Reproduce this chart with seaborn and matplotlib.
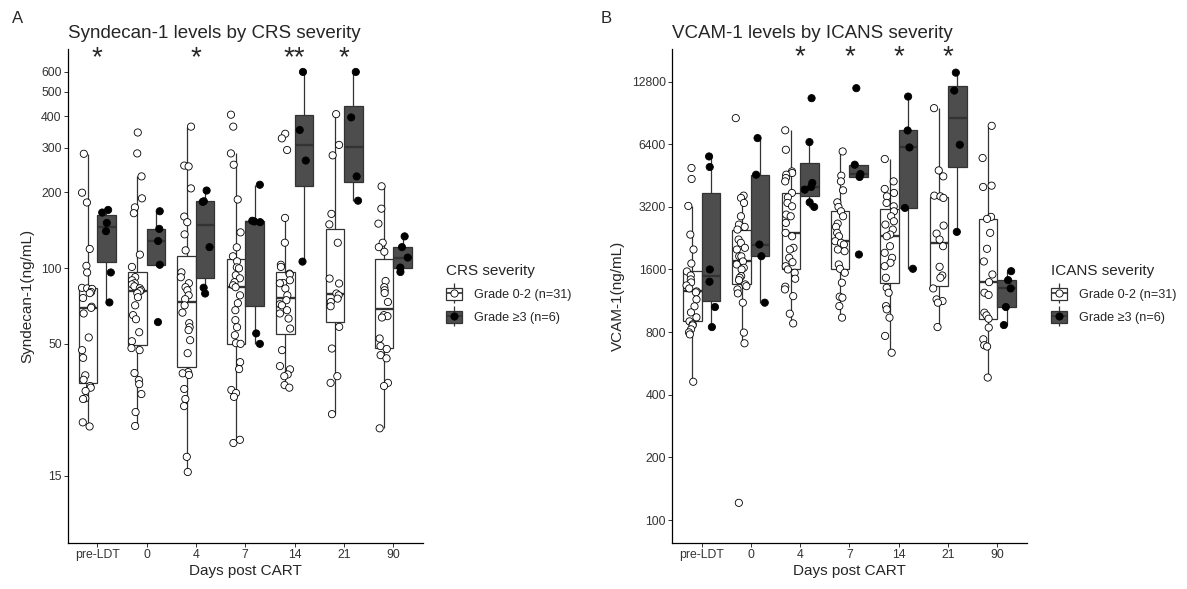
import numpy as np
import pandas as pd
import matplotlib.pyplot as plt
from matplotlib.patches import Patch
from matplotlib.lines import Line2D
from matplotlib.ticker import NullLocator
import seaborn as sns

days = ['pre-LDT', '0', '4', '7', '14', '21', '90']
groups = ['Grade 0-2 (n=31)', 'Grade \u22653 (n=6)']

# Syndecan-1 (ng/mL), one list per day
syn_low = [
    [284, 199, 182, 119, 102, 96, 83.4, 83, 82.6, 80.3, 79.5, 76, 70.2, 69.5, 66, 53, 47.2, 44,
     37.5, 36, 34, 33.5, 32.5, 30.4, 30.2, 24.4, 23.5],
    [345, 285, 231, 189, 174, 165, 113, 101, 92, 89.4, 87, 86.1, 84.6, 83.1, 81.6, 80.9, 79.4,
     76.6, 71.1, 65, 62.6, 55.6, 51.2, 48.1, 47.2, 38.3, 35.9, 34.6, 31.6, 26.8, 23.6],
    [364, 255, 253, 207, 160, 152, 136, 117.5, 96.1, 91.9, 87, 83.9, 81.6, 77.9, 75.2, 71.1, 66.5,
     60.4, 58.2, 56.7, 51.7, 45.9, 38.6, 38.2, 37.6, 33.1, 30.2, 28.3, 17.8, 15.5],
    [406, 364, 285, 257, 187, 138.5, 120.8, 111.3, 106.3, 100.6, 99.7, 93.6, 91, 87.8, 85.4, 83.9,
     77.9, 72.5, 68, 62.1, 58.2, 54.1, 50.3, 50, 42.3, 39.7, 32.8, 31.9, 30.8, 20.8, 20.2],
    [341, 327, 294, 158, 126, 103, 101, 95, 94.4, 89.4, 87.2, 87, 82.9, 77.9, 74.5, 71.8, 71.1, 68,
     66, 63, 57.5, 47.2, 40.8, 39.6, 37.8, 37.2, 34.3, 33.5],
    [408, 308, 280, 164, 149, 126, 90.8, 86.8, 79.2, 77.9, 75.6, 73.3, 70.5, 58.4, 47.9, 37.2, 35, 26.3],
    [211, 172, 150, 126, 121, 116, 88.8, 83.9, 81.6, 79.6, 73.3, 65, 64.4, 63.6, 52.5, 49, 47.7,
     45.1, 43.8, 35, 34, 23.1],
]
syn_high = [
    [170, 166, 151, 140, 96, 73],
    [168, 143, 128, 103, 61],
    [203, 184, 183, 121, 83.5, 79.2],
    [214, 154, 153, 152, 55, 50],
    [600, 353, 267, 106],
    [600, 396, 231, 185],
    [133.5, 121, 110, 100.4, 96.4],
]

# VCAM-1 (ng/mL), one list per day
vcam_low = [
    [4917, 4354, 3232, 2354, 1995, 1709, 1565, 1497, 1433, 1386, 1341, 1297, 1255, 1242, 1149,
     1064, 995, 942, 901, 872, 862, 825, 798, 780, 462],
    [8538, 3621, 3531, 3341, 2882, 2629, 2563, 2488, 2228, 2148, 2033, 1995, 1853, 1850, 1748,
     1691, 1630, 1600, 1486, 1460, 1422, 1356, 1330, 1283, 1228, 1108, 796, 707, 121],
    [7461, 6016, 4734, 4652, 4565, 4403, 4240, 3730, 3554, 3341, 3218, 2936, 2882, 2679, 2399,
     2310, 2033, 1995, 1820, 1734, 1659, 1600, 1543, 1444, 1322, 1283, 1191, 981, 881],
    [5905, 4516, 4240, 3840, 3363, 3196, 3045, 2882, 2658, 2563, 2399, 2310, 2187, 2148, 2109,
     1995, 1958, 1691, 1612, 1543, 1382, 1184, 1171, 1067, 939],
    [5430, 4240, 3899, 3730, 3593, 3341, 3218, 3045, 2882, 2727, 2629, 2488, 2354, 2310, 2070,
     1924, 1820, 1723, 1659, 1460, 1307, 1237, 1067, 1029, 939, 767, 637],
    [9533, 4787, 4482, 3621, 3593, 3531, 2600, 2380, 2228, 2070, 1648, 1497, 1460, 1297, 1149,
     1128, 1108, 846],
    [7840, 5491, 4044, 3986, 2862, 2800, 2399, 2011, 1748, 1514, 1391, 1237, 1207, 992, 963, 928,
     841, 739, 692, 682, 484],
]
vcam_high = [
    [5587, 4970, 1600, 1397, 1056, 846],
    [6845, 4565, 2109, 1853, 1108],
    [10645, 6550, 4167, 3986, 3869, 3363, 3196],
    [11890, 5099, 4600, 4451, 1888],
    [10837, 7446, 6171, 3161, 1612],
    [14122, 11578, 6358, 2425],
    [1570, 1422, 1297, 1056, 865],
]

syn_ticks = [15, 50, 100, 200, 300, 400, 500, 600]
vcam_ticks = [100, 200, 400, 800, 1600, 3200, 6400, 12800]
syn_stars = {'pre-LDT': '*', '4': '*', '14': '**', '21': '*'}
vcam_stars = {'4': '*', '7': '*', '14': '*', '21': '*'}


def to_long(low, high):
    rows = []
    for day, lo, hi in zip(days, low, high):
        rows += [(day, groups[0], v) for v in lo]
        rows += [(day, groups[1], v) for v in hi]
    return pd.DataFrame(rows, columns=['day', 'grade', 'value'])


sns.set_theme(style='ticks')
plt.rcParams['font.family'] = ['Liberation Sans', 'DejaVu Sans']
np.random.seed(11)

box_pal = {groups[0]: 'white', groups[1]: '#4d4d4d'}
pt_pal = {groups[0]: 'white', groups[1]: 'black'}
line_c = '#333333'

fig = plt.figure(figsize=(11.87, 5.89), dpi=100)
axA = fig.add_axes([0.0569, 0.0781, 0.2995, 0.8387])
axB = fig.add_axes([0.5661, 0.0781, 0.2991, 0.8387])


def panel(ax, df, base, ticks, ylim, title, ylabel, stars, star_y, leg_title, leg_x):
    sns.boxplot(data=df, x='day', y='value', hue='grade', order=days, hue_order=groups,
                palette=box_pal, saturation=1, width=0.75, gap=0, linecolor=line_c,
                linewidth=0.9, showfliers=False, log_scale=base,
                capprops=dict(linewidth=0), medianprops=dict(linewidth=1.7),
                legend=False, ax=ax)
    sns.stripplot(data=df, x='day', y='value', hue='grade', order=days, hue_order=groups,
                  palette=pt_pal, dodge=True, jitter=0.22, size=5.2, edgecolor='black',
                  linewidth=0.6, legend=False, ax=ax)
    ax.set_ylim(*ylim)
    ax.set_xlim(-0.6, 6.6)
    ax.set_yticks(ticks)
    ax.set_yticklabels([str(t) for t in ticks])
    ax.yaxis.set_minor_locator(NullLocator())
    ax.tick_params(axis='both', length=2.75, width=0.7, color=line_c, labelsize=8.8,
                   labelcolor='#333333', pad=1.5)
    sns.despine(ax=ax)
    for s in ['left', 'bottom']:
        ax.spines[s].set_linewidth(0.9)
        ax.spines[s].set_color('black')
    ax.set_xlabel('Days post CART', fontsize=11, labelpad=2)
    ax.set_ylabel(ylabel, fontsize=11, labelpad=5)
    ax.set_title(title, loc='left', fontsize=13.5, pad=8)
    for day, s in stars.items():
        ax.text(days.index(day), star_y, s, ha='center', va='baseline', fontsize=20)

    handles = []
    for face, dot in [('white', 'white'), ('#4d4d4d', 'black')]:
        whisk = Line2D([], [], linestyle='', marker='|', markersize=15,
                       markeredgecolor=line_c, markeredgewidth=0.9)
        box = Patch(facecolor=face, edgecolor=line_c, linewidth=0.9)
        med = Line2D([], [], linestyle='', marker='_', markersize=11.5,
                     markeredgecolor=line_c, markeredgewidth=1.2)
        pt = Line2D([], [], linestyle='', marker='o', markersize=5.2, markerfacecolor=dot,
                    markeredgecolor='black', markeredgewidth=0.6)
        handles.append((whisk, box, med, pt))
    ax.legend(handles, groups, title=leg_title, loc='center left',
              bbox_to_anchor=(leg_x, 0.5008), bbox_transform=fig.transFigure,
              frameon=False, fontsize=9.1, title_fontsize=11, alignment='left',
              handlelength=1.3, handleheight=1.1, labelspacing=0.75, handletextpad=0.9,
              borderpad=0, borderaxespad=0)


panel(axA, to_long(syn_low, syn_high), 10, syn_ticks, (8.1, 740),
      'Syndecan-1 levels by CRS severity', 'Syndecan-1(ng/mL)', syn_stars, 640,
      'CRS severity', 446 / 1187)
panel(axB, to_long(vcam_low, vcam_high), 2, vcam_ticks, (77.6, 18340),
      'VCAM-1 levels by ICANS severity', 'VCAM-1(ng/mL)', vcam_stars, 15500,
      'ICANS severity', 1051 / 1187)

fig.text(12 / 1187, 1 - 23 / 589, 'A', fontsize=12, va='baseline')
fig.text(601 / 1187, 1 - 23 / 589, 'B', fontsize=12, va='baseline')

fig.savefig('out.png', dpi=100)
